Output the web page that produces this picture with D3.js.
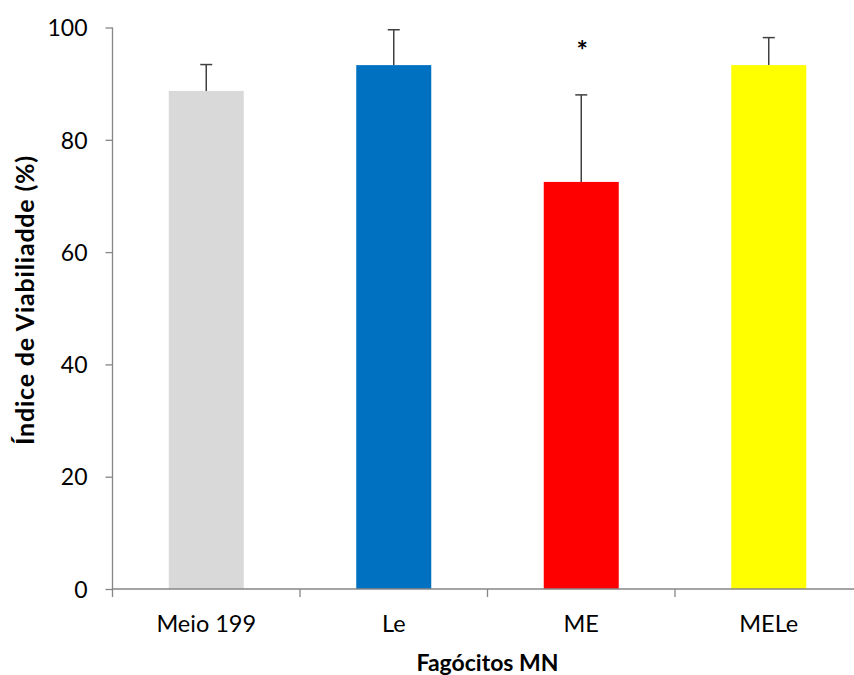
<!DOCTYPE html>
<html>
<head>
<meta charset="utf-8">
<script src="https://cdn.jsdelivr.net/npm/d3@7"></script>
<style>
  body { margin: 0; background: #fff; }
  svg text { font-family: Lato, "Open Sans", sans-serif; fill: #000; }
</style>
</head>
<body>
<svg id="chart" width="854" height="675"></svg>
<script>
// data
const categories = ["Meio 199", "Le", "ME", "MELe"];
const means = [88.7, 93.3, 72.5, 93.3];
const errors = [4.7, 6.3, 15.5, 4.9];
const barColors = ["#d9d9d9", "#0070c0", "#ff0000", "#ffff00"];
const significant = [false, false, true, false];
const yTicks = [0, 20, 40, 60, 80, 100];

// plot box
const margin = { top: 27.5, left: 112.5, bottom: 86, right: -8.5 },
    width = 854 - margin.left - margin.right,
    height = 675 - margin.top - margin.bottom;

const svg = d3.select("#chart");
const g = svg.append("g")
    .attr("transform", `translate(${margin.left}, ${margin.top})`);

const x = d3.scaleBand()
    .domain(categories)
    .range([0, width])
    .paddingInner(0.6)
    .paddingOuter(0.3);

const y = d3.scaleLinear()
    .domain([0, 100])
    .range([height, 0]);

const axisColor = "#868686";

// y axis
const yAxis = g.append("g")
    .call(d3.axisLeft(y).tickValues(yTicks).tickSize(7).tickPadding(18));
yAxis.select(".domain").remove();
yAxis.selectAll("line").attr("stroke", axisColor).attr("stroke-width", 1.3);
yAxis.selectAll("text").style("font-size", "23px").attr("dy", "0.36em");
g.append("line")
    .attr("x1", 0).attr("x2", 0)
    .attr("y1", 0).attr("y2", height + 8)
    .attr("stroke", axisColor).attr("stroke-width", 1.3);

// bars
const bars = g.selectAll(".bar")
    .data(categories)
    .enter()
    .append("g");

// error bars (drawn under the bar so only the top half shows)
bars.append("line")
    .attr("x1", d => x(d) + x.bandwidth() / 2)
    .attr("x2", d => x(d) + x.bandwidth() / 2)
    .attr("y1", (d, i) => y(means[i]))
    .attr("y2", (d, i) => y(means[i] + errors[i]))
    .attr("stroke", "#404040")
    .attr("stroke-width", 1.5);
bars.append("line")
    .attr("x1", d => x(d) + x.bandwidth() / 2 - 6)
    .attr("x2", d => x(d) + x.bandwidth() / 2 + 6)
    .attr("y1", (d, i) => y(means[i] + errors[i]))
    .attr("y2", (d, i) => y(means[i] + errors[i]))
    .attr("stroke", "#404040")
    .attr("stroke-width", 1.5);

bars.append("rect")
    .attr("x", d => x(d))
    .attr("width", x.bandwidth())
    .attr("y", (d, i) => y(means[i]))
    .attr("height", (d, i) => height - y(means[i]))
    .style("fill", (d, i) => barColors[i]);

// significance mark
bars.filter((d, i) => significant[i])
    .append("text")
    .attr("x", d => x(d) + x.bandwidth() / 2 + 1)
    .attr("y", 60 - margin.top)
    .attr("text-anchor", "middle")
    .style("font-size", "27px")
    .style("font-weight", "bold")
    .text("*");

// x axis with ticks between categories
const xAxis = g.append("g")
    .attr("transform", `translate(0, ${height})`);
xAxis.append("line")
    .attr("x1", 0).attr("x2", width)
    .attr("stroke", axisColor).attr("stroke-width", 1.3);
const step = x.step();
xAxis.selectAll(".sep")
    .data(categories.slice(1))
    .enter()
    .append("line")
    .attr("x1", d => x(d) - step * 0.3)
    .attr("x2", d => x(d) - step * 0.3)
    .attr("y1", 0).attr("y2", 8)
    .attr("stroke", axisColor).attr("stroke-width", 1.3);
xAxis.selectAll(".lbl")
    .data(categories)
    .enter()
    .append("text")
    .attr("x", d => x(d) + x.bandwidth() / 2)
    .attr("y", 43)
    .attr("text-anchor", "middle")
    .style("font-size", "23.5px")
    .text(d => d);

// axis titles
svg.append("text")
    .attr("x", 487.5)
    .attr("y", 671)
    .attr("text-anchor", "middle")
    .style("font-size", "23px")
    .style("font-weight", "bold")
    .text("Fagócitos MN");

svg.append("text")
    .attr("transform", "translate(34, 300) rotate(-90)")
    .attr("text-anchor", "middle")
    .style("font-size", "25px")
    .style("font-weight", "bold")
    .style("letter-spacing", "0.8px")
    .text("Índice de Viabiliadde (%)");
</script>
</body>
</html>
